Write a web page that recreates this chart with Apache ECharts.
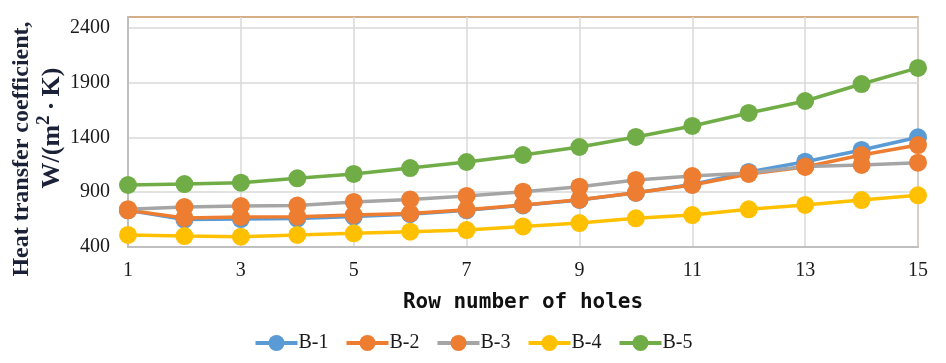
<!DOCTYPE html>
<html>
<head>
<meta charset="utf-8">
<script src="https://cdn.jsdelivr.net/npm/echarts@6/dist/echarts.min.js"></script>
<style>
html,body{margin:0;padding:0;background:#fff;}
#chart{width:946px;height:363px;}
</style>
</head>
<body>
<div id="chart"></div>
<script>
const rows = [1, 2, 3, 4, 5, 6, 7, 8, 9, 10, 11, 12, 13, 14, 15];
const seriesNames = ['B-1', 'B-2', 'B-3', 'B-4', 'B-5'];
const b1 = [735, 650, 655, 660, 678, 700, 735, 780, 830, 895, 970, 1085, 1179, 1286, 1402];
const b2 = [735, 665, 674, 677, 692, 706, 741, 784, 832, 896, 966, 1067, 1131, 1240, 1331];
const b3 = [745, 765, 774, 779, 811, 834, 866, 905, 951, 1012, 1048, 1076, 1135, 1149, 1170];
const b4 = [510, 500, 494, 510, 525, 540, 555, 588, 619, 662, 692, 744, 784, 829, 872];
const b5 = [966, 975, 987, 1027, 1067, 1121, 1176, 1240, 1313, 1405, 1505, 1624, 1733, 1888, 2035];
const xTicks = [1, 3, 5, 7, 9, 11, 13, 15];
const yTicks = [400, 900, 1400, 1900, 2400];

const lineColors = ['#5b9bd5', '#ed7d31', '#a5a5a5', '#ffc000', '#70ad47'];
const markerColors = ['#5b9bd5', '#ed7d31', '#ed7d31', '#ffc000', '#70ad47'];
const values = [b1, b2, b3, b4, b5];

const serif = '"Liberation Serif", "Times New Roman", serif';

const chart = echarts.init(document.getElementById('chart'));
chart.setOption({
  animation: false,
  backgroundColor: '#ffffff',
  grid: {
    left: 128, right: 28, top: 17, bottom: 116,
    show: true, borderColor: '#c9945e', borderWidth: 1.5, backgroundColor: 'transparent'
  },
  xAxis: {
    type: 'value',
    min: xTicks[0], max: xTicks[xTicks.length - 1], interval: 2,
    name: 'Row number of holes',
    nameLocation: 'middle',
    nameGap: 45,
    nameTextStyle: { fontFamily: '"DejaVu Sans Mono", monospace', fontWeight: 'bold', fontSize: 21, color: '#111' },
    axisLine: { show: true, lineStyle: { color: '#bfbfbf', width: 2 } },
    axisTick: { show: false },
    axisLabel: { fontFamily: serif, fontSize: 20, color: '#1a1a1a', margin: 14 },
    splitLine: { show: true, lineStyle: { color: '#d9d9d9', width: 1.5 } }
  },
  yAxis: {
    type: 'value',
    min: yTicks[0], max: 2500, interval: 500,
    axisLine: { show: true, lineStyle: { color: '#bfbfbf', width: 2 } },
    axisTick: { show: false },
    axisLabel: {
      fontFamily: serif, fontSize: 20, color: '#1a1a1a', margin: 18, showMaxLabel: false,
      formatter: function (v) { return String(v); }
    },
    splitLine: { show: true, showMaxLine: false, showMinLine: false, lineStyle: { color: '#d9d9d9', width: 1.5 } }
  },
  legend: {
    bottom: 5,
    left: 'center',
    itemWidth: 42,
    itemHeight: 20,
    itemGap: 16,
    lineStyle: { width: 4 },
    textStyle: { fontFamily: serif, fontSize: 20, color: '#1a1a1a', padding: [0, 0, 0, -4] },
    data: seriesNames
  },
  graphic: [
    {
      type: 'text', x: 22, y: 149, rotation: Math.PI / 2,
      style: {
        text: 'Heat transfer coefficient,',
        font: 'bold 24px "Liberation Serif", "Times New Roman", serif',
        fill: '#1b2238', align: 'center', verticalAlign: 'middle'
      }
    },
    {
      type: 'text', x: 52, y: 128, rotation: Math.PI / 2,
      style: {
        text: 'W/(m{s|2}\u2009·\u2009K)',
        font: 'bold 26px "Liberation Serif", "Times New Roman", serif',
        lineHeight: 34,
        fill: '#1b2238', align: 'center', verticalAlign: 'middle',
        rich: {
          s: { font: 'bold 19px "Liberation Serif", "Times New Roman", serif', fill: '#1b2238', verticalAlign: 'top' }
        }
      }
    }
  ],
  series: seriesNames.map((name, i) => ({
    name: name,
    type: 'line',
    data: rows.map((r, j) => [r, values[i][j]]),
    symbol: 'circle',
    symbolSize: 18,
    lineStyle: { color: lineColors[i], width: 3.5 },
    itemStyle: { color: markerColors[i], borderWidth: 0 },
    z: 2 + i
  }))
});
</script>
</body>
</html>
